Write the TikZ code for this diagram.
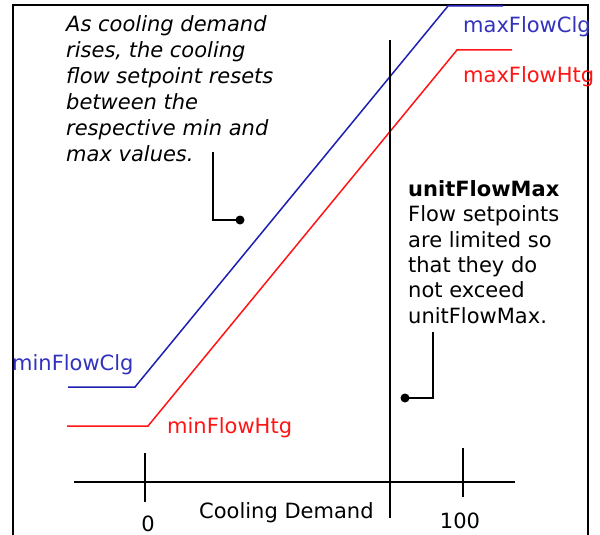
\documentclass[tikz,border=0pt]{standalone}
\usepackage{fontspec}
\setmainfont{DejaVu Sans}
\definecolor{clgblue}{RGB}{30,30,180}
\definecolor{clgtext}{RGB}{50,50,190}
\definecolor{htgred}{RGB}{255,20,20}
\begin{document}
\begin{tikzpicture}[x=1pt, y=-1pt,
    txt/.style={inner sep=0pt, anchor=base west, font=\fontsize{21}{26}\selectfont},
    clg/.style={draw=clgblue, line width=1.5pt},
    htg/.style={draw=htgred, line width=1.5pt},
    axis/.style={draw=black, line width=1.8pt}]
    \useasboundingbox (0,0) rectangle (600,535);

    % Frame
    \draw[line width=2.4pt] (13,535) -- (13,5) -- (588,5) -- (588,535);

    % Setpoint curves
    \coordinate (clgA) at (68,387);
    \coordinate (clgB) at (135,387);
    \coordinate (clgC) at (448,6);
    \coordinate (clgD) at (503,6);
    \coordinate (htgA) at (67,426);
    \coordinate (htgB) at (148,426);
    \coordinate (htgC) at (457,50);
    \coordinate (htgD) at (512,50);
    \draw[clg] (clgA) -- (clgB) -- (clgC) -- (clgD);
    \draw[htg] (htgA) -- (htgB) -- (htgC) -- (htgD);

    % Axis and ticks
    \coordinate (axisL) at (74,482);
    \coordinate (axisR) at (515,482);
    \coordinate (zeroT) at (145,453);
    \coordinate (zeroB) at (145,502);
    \coordinate (fullT) at (463,448);
    \coordinate (fullB) at (463,497);
    \coordinate (limT) at (390,40);
    \coordinate (limB) at (390,518);
    \draw[axis] (axisL) -- (axisR);
    \draw[axis] (zeroT) -- (zeroB);
    \draw[axis] (fullT) -- (fullB);
    \draw[line width=1.5pt] (limT) -- (limB);

    % Axis labels
    \node[txt, anchor=base] (zero) at (148,531) {0};
    \node[txt, anchor=base] (full) at (460,528) {100};
    \node[txt] (demand) at (199,518) {Cooling Demand};

    % Curve labels
    \node[txt, text=clgtext] (minclg) at (12,370) {minFlowClg};
    \node[txt, text=htgred] (minhtg) at (167,433) {minFlowHtg};
    \node[txt, text=clgtext] (maxclg) at (463,33) {maxFlowClg};
    \node[txt, text=htgred] (maxhtg) at (463,82) {maxFlowHtg};

    % Notes (base = last line)
    \node[txt, align=left, font=\fontsize{21}{26}\selectfont\itshape] (note) at (66,161)
        {As cooling demand\\rises, the cooling\\flow setpoint resets\\between the\\respective min and\\max values.};
    \node[txt, align=left, font=\fontsize{21}{25.3}\selectfont] (limnote) at (408,323)
        {\textbf{unitFlowMax}\\Flow setpoints\\are limited so\\that they do\\not exceed\\unitFlowMax.};

    % Callouts
    \coordinate (notetail) at (213,152);
    \coordinate (notedot) at (240,220);
    \coordinate (limtail) at (433,332);
    \coordinate (limdot) at (405,398);
    \draw[line width=1.5pt] (notetail) |- (notedot);
    \draw[line width=1.5pt] (limtail) |- (limdot);
    \fill (notedot) circle (4.5);
    \fill (limdot) circle (4.5);
\end{tikzpicture}
\end{document}
